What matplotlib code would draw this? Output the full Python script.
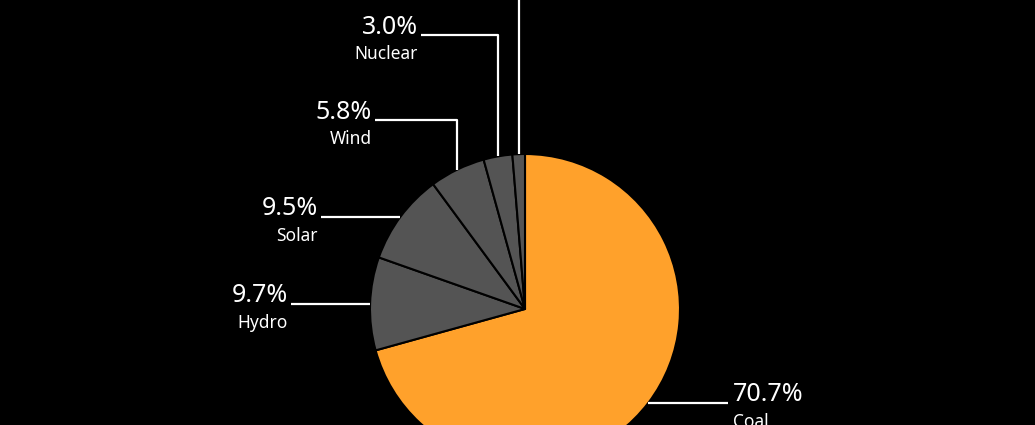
import numpy as np
import matplotlib.pyplot as plt

plt.rcParams['font.family'] = ['Noto Sans', 'DejaVu Sans']

# data
labels = ['Coal', 'Hydro', 'Solar', 'Wind', 'Nuclear', 'Other']
shares = [70.7, 9.7, 9.5, 5.8, 3.0, 1.3]
colors = ['#FFA12B', '#545454', '#545454', '#545454', '#545454', '#545454']

W, H = 1035, 425
cx, cy, r = 525, H - 309, 155

fig = plt.figure(figsize=(W / 100, H / 100), dpi=100, facecolor='black')
ax = fig.add_axes([0, 0, 1, 1])
ax.set_facecolor('black')

wedges, _ = ax.pie(shares, colors=colors, startangle=90, counterclock=False,
                   center=(cx, cy), radius=r,
                   wedgeprops=dict(edgecolor='black', linewidth=1.5))
ax.set_xlim(0, W)
ax.set_ylim(0, H)
ax.set_aspect('equal')
ax.axis('off')

# label layout: (elbow y, end x, side) in pixel coords (y from top)
layout = {
    'Coal':    (None, 728, 'right'),
    'Hydro':   (None, 291, 'left'),
    'Solar':   (None, 321, 'left'),
    'Wind':    (120, 375, 'left'),
    'Nuclear': (35, 421, 'left'),
    'Other':   (-20, None, 'up'),
}

lw = 1.6
for w, lab, val in zip(wedges, labels, shares):
    mid = np.deg2rad((w.theta1 + w.theta2) / 2)
    x0 = cx + r * np.cos(mid)
    y0 = cy + r * np.sin(mid)
    elbow, xe, side = layout[lab]
    if side == 'up':
        ax.plot([x0, x0], [y0, H - elbow], color='white', lw=lw, solid_capstyle='butt')
        continue
    if elbow is not None:
        ye = H - elbow
        ax.plot([x0, x0, xe], [y0, ye, ye], color='white', lw=lw, solid_capstyle='butt')
    else:
        ye = y0
        ax.plot([x0, xe], [ye, ye], color='white', lw=lw, solid_capstyle='butt')
    if side == 'left':
        tx, ha = xe - 3, 'right'
    else:
        tx, ha = xe + 5, 'left'
    ax.text(tx, ye + 8, f'{val:.1f}%', color='white', fontsize=18,
            ha=ha, va='center')
    ax.text(tx, ye - 19, lab, color='white', fontsize=12.5,
            ha=ha, va='center')

fig.savefig('out.png', dpi=100, facecolor='black')
